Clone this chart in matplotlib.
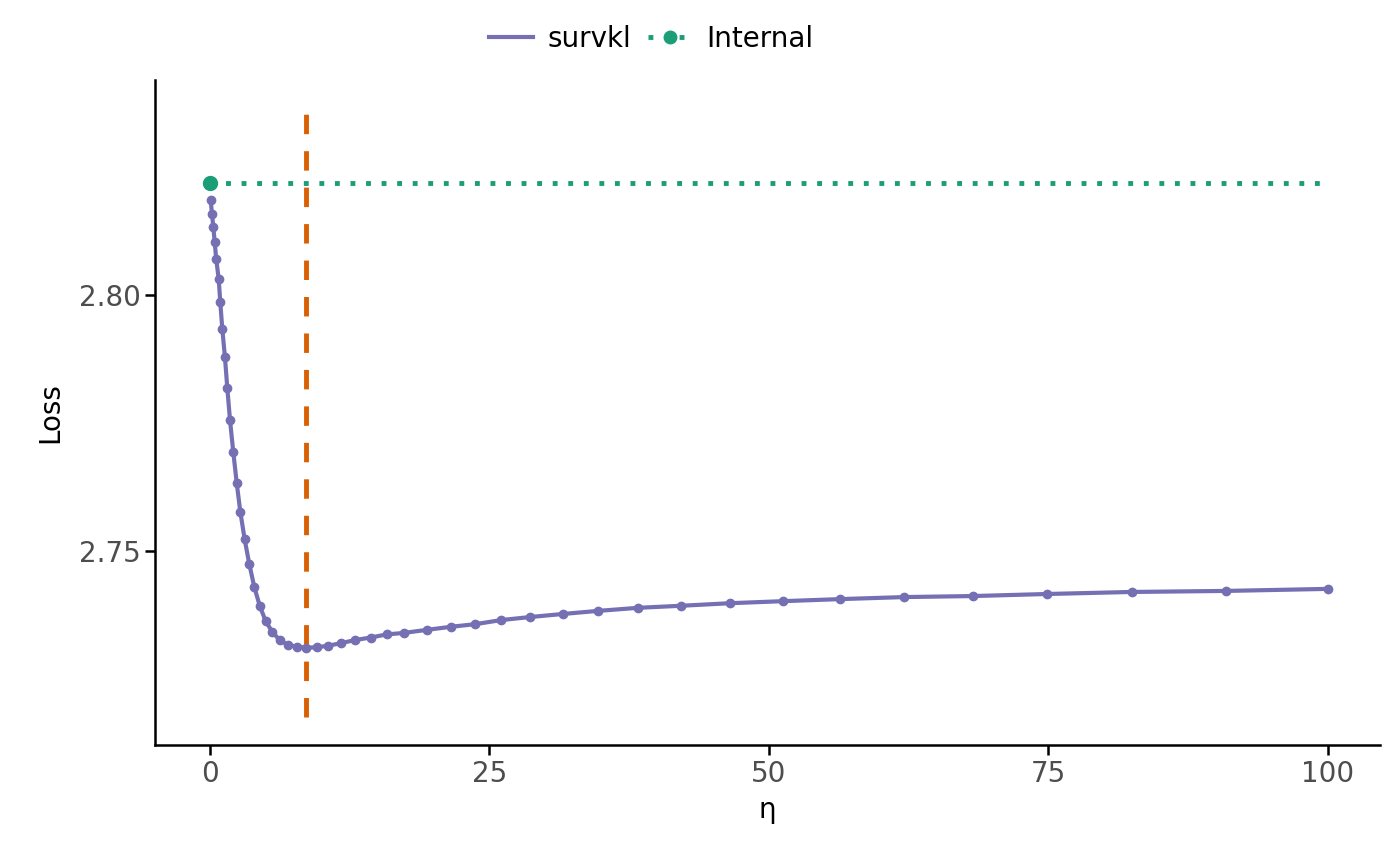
import matplotlib
matplotlib.use("Agg")
import matplotlib.pyplot as plt
from matplotlib.lines import Line2D

eta = [0.06,0.18,0.30,0.42,0.56,0.78,0.92,1.10,1.34,1.55,1.79,2.08,2.39,2.71,3.10,3.52,3.96,4.45,4.98,5.57,
       6.23,6.95,7.75,8.59,9.54,10.58,11.72,12.97,14.37,15.80,17.35,19.41,21.56,23.70,26.03,28.62,31.57,34.70,
       38.28,42.13,46.51,51.25,56.35,62.08,68.25,74.87,82.47,90.88,100.0]
loss = [2.8186,2.8158,2.8132,2.8104,2.8070,2.8031,2.7986,2.7934,2.7878,2.7818,2.7756,2.7694,2.7633,2.7577,
        2.7523,2.7474,2.7430,2.7393,2.7363,2.7342,2.7326,2.7317,2.7313,2.7311,2.7312,2.7315,2.7320,2.7326,
        2.7331,2.7337,2.7340,2.7346,2.7352,2.7357,2.7365,2.7371,2.7377,2.7383,2.7389,2.7393,2.7398,2.7402,
        2.7406,2.7410,2.7412,2.7416,2.7420,2.7422,2.7426]
internal_loss = 2.8218
best_eta = 8.59

purple = "#7570B3"; green = "#1B9E77"; orange = "#D95F02"

fig = plt.figure(figsize=(14, 8.65), dpi=100)
ax = fig.add_axes([0.1107, 0.1387, 0.875, 0.7688])
ax.plot(eta, loss, color=purple, lw=3, marker="o", ms=6, zorder=3)
ax.plot([0, 100], [internal_loss, internal_loss], color=green, lw=3.5, ls=(0, (1, 2.2)), zorder=2)
ax.plot([0], [internal_loss], "o", color=green, ms=10, zorder=4)
ax.plot([best_eta, best_eta], [2.7176, 2.8357], color=orange, lw=3.5, ls=(0, (4, 3.5)), zorder=2)

ax.set_xlim(-4.92, 104.65)
ax.set_ylim(2.7121, 2.842)
ax.set_xticks([0, 25, 50, 75, 100])
ax.set_yticks([2.75, 2.80])
ax.set_yticklabels(["2.75", "2.80"])
for s in ["top", "right"]:
    ax.spines[s].set_visible(False)
for s in ["left", "bottom"]:
    ax.spines[s].set_linewidth(1.8)
ax.tick_params(labelsize=20, colors="#4D4D4D", width=1.8, length=7)
ax.tick_params(axis="both", color="black")
ax.set_xlabel("η", fontsize=20, labelpad=6)
ax.set_ylabel("Loss", fontsize=20, labelpad=10)

handles = [Line2D([], [], color=purple, lw=3),
           Line2D([], [], color=green, lw=3.5, ls=(0, (1, 2.2)), marker="o", ms=9)]
fig.legend(handles, ["survkl", "Internal"], loc="upper center", bbox_to_anchor=(0.465, 1.0),
           ncol=2, frameon=False, fontsize=20, handlelength=1.6, columnspacing=0.6, handletextpad=0.5)
fig.savefig("out.png", dpi=100)
